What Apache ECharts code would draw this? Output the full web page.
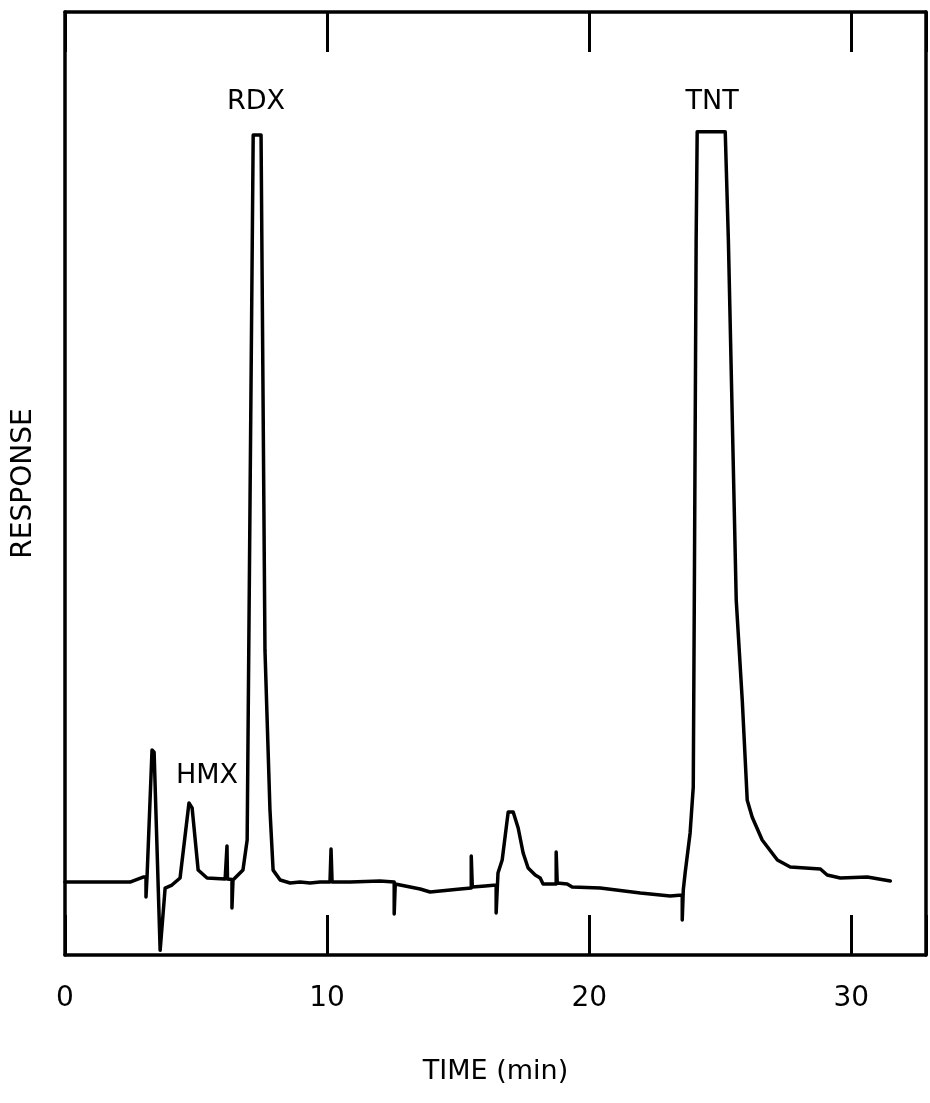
<!DOCTYPE html>
<html>
<head>
<meta charset="utf-8">
<script src="https://cdn.jsdelivr.net/npm/echarts@6/dist/echarts.min.js"></script>
<style>
html,body{margin:0;padding:0;background:#fff;}
#chart{width:930px;height:1103px;}
</style>
</head>
<body>
<div id="chart"></div>
<script>
// Time (min) of each trace point
var timeMin = [0, 2.48, 2.98, 3.09, 3.09, 3.13, 3.32, 3.40, 3.63, 3.66, 3.82, 4.08, 4.39, 4.73, 4.85, 5.08, 5.42, 6.11, 6.18, 6.18, 6.20, 6.37, 6.37, 6.41, 6.79, 6.95, 7.06, 7.18, 7.48, 7.63, 7.82, 7.94, 8.21, 8.59, 8.97, 9.35, 9.73, 10.11, 10.15, 10.19, 10.88, 12.02, 12.56, 12.56, 12.60, 13.55, 13.93, 15.08, 15.50, 15.50, 15.54, 16.03, 16.45, 16.45, 16.52, 16.68, 16.87, 16.91, 17.10, 17.29, 17.48, 17.67, 17.94, 18.13, 18.24, 18.59, 18.74, 18.74, 18.78, 19.16, 19.35, 20.42, 21.95, 23.09, 23.55, 23.55, 23.59, 23.66, 23.85, 23.97, 24.01, 24.08, 24.12, 25.19, 25.31, 25.61, 25.84, 26.03, 26.22, 26.60, 27.18, 27.67, 28.82, 29.08, 29.58, 30.61, 31.49];
// Detector response (arbitrary units, 0-100 full scale)
var response = [7.74, 7.74, 8.27, 8.27, 6.15, 8.27, 21.74, 21.5, 0.5, 0.3, 7.10, 7.42, 8.17, 16.12, 15.6, 9.01, 8.17, 8.06, 8.06, 11.56, 8.06, 8.0, 4.98, 7.95, 9.01, 12.2, 48.3, 86.96, 86.96, 32.3, 15.4, 9.0, 7.95, 7.64, 7.74, 7.64, 7.74, 7.74, 11.24, 7.74, 7.74, 7.85, 7.74, 4.35, 7.53, 7.0, 6.68, 7.0, 7.10, 10.5, 7.21, 7.32, 7.42, 4.45, 8.7, 10.07, 14.3, 15.16, 15.16, 13.47, 10.82, 9.23, 8.48, 8.17, 7.53, 7.53, 7.53, 10.92, 7.64, 7.53, 7.21, 7.10, 6.57, 6.26, 6.36, 3.71, 6.89, 8.70, 12.94, 17.8, 37.6, 75.8, 87.3, 87.3, 75.8, 37.6, 27.0, 16.4, 14.6, 12.2, 10.07, 9.33, 9.12, 8.48, 8.17, 8.27, 7.85];
// Peak annotations
var peakNames = ['HMX', 'RDX', 'TNT'];
var peakTime = [5.42, 7.29, 24.69];
var peakResp = [18.98, 90.46, 90.46];
var xTicks = [0, 10, 20, 30];

var font = 'DejaVu Sans';
var trace = timeMin.map(function (t, i) { return [t, response[i]]; });
var peaks = peakNames.map(function (n, i) { return { name: n, value: [peakTime[i], peakResp[i]] }; });

var chart = echarts.init(document.getElementById('chart'));
var lineStyle = { color: '#000', width: 3.5 };
chart.setOption({
  animation: false,
  backgroundColor: '#fff',
  grid: { left: 65, right: 4, top: 12, bottom: 148 },
  xAxis: [{
    type: 'value', min: 0, max: 32.85, interval: 10, position: 'bottom',
    axisLine: { show: true, onZero: false, lineStyle: lineStyle },
    axisTick: { show: true, inside: true, length: 40, lineStyle: { color: '#000', width: 3 } },
    axisLabel: { margin: 30, fontSize: 28, color: '#000', fontFamily: font,
      formatter: function (v) { return xTicks.indexOf(v) >= 0 ? String(v) : ''; } },
    splitLine: { show: false },
    name: 'TIME (min)', nameLocation: 'middle', nameGap: 103,
    nameTextStyle: { fontSize: 27, color: '#000', fontFamily: font }
  }, {
    type: 'value', min: 0, max: 32.85, interval: 10, position: 'top',
    axisLine: { show: true, onZero: false, lineStyle: lineStyle },
    axisTick: { show: true, inside: true, length: 40, lineStyle: { color: '#000', width: 3 } },
    axisLabel: { show: false },
    splitLine: { show: false }
  }],
  yAxis: [{
    type: 'value', min: 0, max: 100, position: 'left',
    axisLine: { show: true, onZero: false, lineStyle: lineStyle },
    axisTick: { show: false }, axisLabel: { show: false }, splitLine: { show: false },
    name: 'RESPONSE', nameLocation: 'middle', nameGap: 27, nameRotate: 90,
    nameTextStyle: { fontSize: 28, color: '#000', fontFamily: font }
  }, {
    type: 'value', min: 0, max: 100, position: 'right',
    axisLine: { show: true, onZero: false, lineStyle: lineStyle },
    axisTick: { show: false }, axisLabel: { show: false }, splitLine: { show: false }
  }],
  series: [{
    type: 'line', data: trace, showSymbol: false, symbol: 'none',
    lineStyle: { color: '#000', width: 3.5, join: 'round', cap: 'round' },
    silent: true
  }, {
    type: 'scatter', data: peaks, symbolSize: 0,
    itemStyle: { opacity: 1, color: '#000' },
    label: { show: true, position: 'inside', formatter: '{b}', fontSize: 27, color: '#000', opacity: 1, fontFamily: font },
    silent: true
  }]
});
</script>
</body>
</html>
